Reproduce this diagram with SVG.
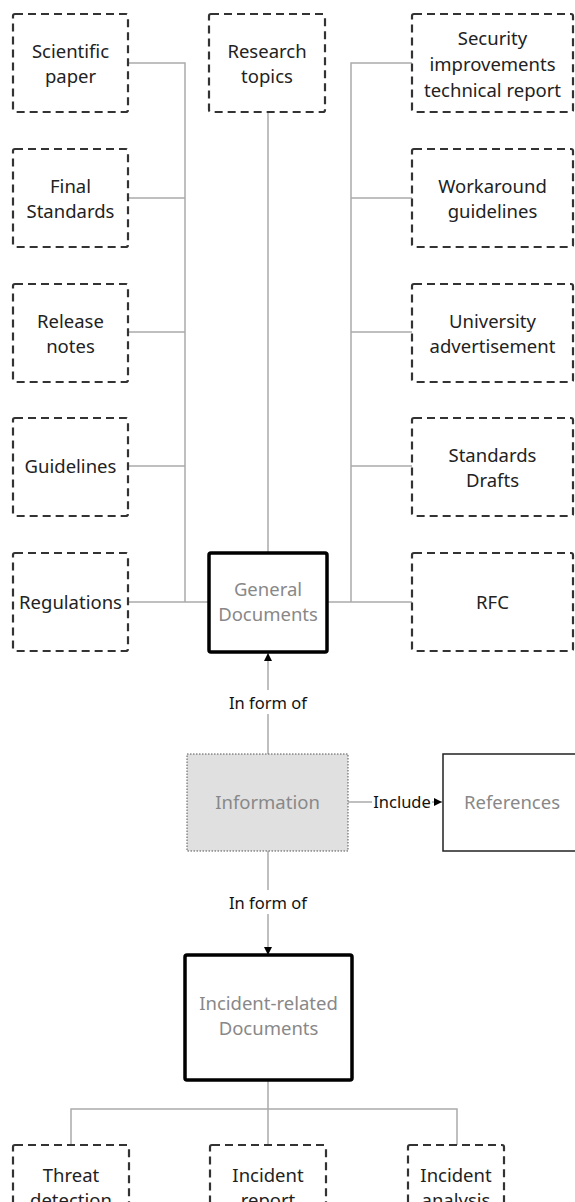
<svg xmlns="http://www.w3.org/2000/svg" width="575" height="1202" viewBox="0 0 575 1202">
<style>
.dash{fill:#fff;stroke:#333;stroke-width:2.2;stroke-dasharray:8 5}
.thick{fill:#fff;stroke:#000;stroke-width:3.5}
.t{font-family:"Noto Sans","Open Sans",sans-serif;font-size:18.5px;fill:#222;text-anchor:middle}
.g{fill:#888}
.lbl{font-family:"Noto Sans","Open Sans",sans-serif;font-size:16.5px;fill:#111;text-anchor:middle}
.c{fill:none;stroke:#aaa;stroke-width:1.5}
</style>
<defs>
<marker id="ah" viewBox="0 0 10 10" refX="10" refY="5" markerWidth="8" markerHeight="8" markerUnits="userSpaceOnUse" orient="auto"><path d="M0,0L10,5L0,10Z" fill="#000"/></marker>
</defs>
<rect width="575" height="1202" fill="#fff"/>
<g id="connectors">
<path class="c" d="M128,63H185V602M128,198H185M128,332H185M128,466H185M128,602H209"/>
<path class="c" d="M412,63H351V602M412,198H351M412,332H351M412,466H351M327,602H412"/>
<path class="c" d="M268,112V553"/>
<path class="c" d="M268,754V653" marker-end="url(#ah)"/>
<path class="c" d="M268,851V955" marker-end="url(#ah)"/>
<path class="c" d="M348,802H442" marker-end="url(#ah)"/>
<path class="c" d="M268,1080V1109M71,1145V1109H457V1145M268,1109V1145"/>
<rect x="236" y="690" width="64" height="24" fill="#fff"/>
<text class="lbl" x="268" y="709">In form of</text>
<rect x="236" y="890" width="64" height="24" fill="#fff"/>
<text class="lbl" x="268" y="909">In form of</text>
<rect x="372" y="790" width="60" height="24" fill="#fff"/>
<text class="lbl" x="402" y="808">Include</text>
</g>
<g id="scientific-paper"><rect class="dash" x="13" y="14" width="115" height="98" rx="2"/><text class="t" x="70.5" y="57.5">Scientific</text><text class="t" x="70.5" y="82.5">paper</text></g>
<g id="research-topics"><rect class="dash" x="209" y="14" width="116" height="98" rx="2"/><text class="t" x="267" y="57.5">Research</text><text class="t" x="267" y="82.5">topics</text></g>
<g id="security-report"><rect class="dash" x="412" y="14" width="161" height="98" rx="2"/><text class="t" x="492.5" y="45">Security</text><text class="t" x="492.5" y="71">improvements</text><text class="t" x="492.5" y="97">technical report</text></g>
<g id="final-standards"><rect class="dash" x="13" y="149" width="115" height="98" rx="2"/><text class="t" x="70.5" y="192.5">Final</text><text class="t" x="70.5" y="217.5">Standards</text></g>
<g id="workaround"><rect class="dash" x="412" y="149" width="161" height="98" rx="2"/><text class="t" x="492.5" y="192.5">Workaround</text><text class="t" x="492.5" y="217.5">guidelines</text></g>
<g id="release-notes"><rect class="dash" x="13" y="284" width="115" height="98" rx="2"/><text class="t" x="70.5" y="327.5">Release</text><text class="t" x="70.5" y="352.5">notes</text></g>
<g id="university"><rect class="dash" x="412" y="284" width="161" height="98" rx="2"/><text class="t" x="492.5" y="327.5">University</text><text class="t" x="492.5" y="352.5">advertisement</text></g>
<g id="guidelines"><rect class="dash" x="13" y="418" width="115" height="98" rx="2"/><text class="t" x="70.5" y="473">Guidelines</text></g>
<g id="standards-drafts"><rect class="dash" x="412" y="418" width="161" height="98" rx="2"/><text class="t" x="492.5" y="461.5">Standards</text><text class="t" x="492.5" y="486.5">Drafts</text></g>
<g id="regulations"><rect class="dash" x="13" y="553" width="115" height="98" rx="2"/><text class="t" x="70.5" y="609">Regulations</text></g>
<g id="general-documents"><rect class="thick" x="209" y="553" width="118" height="99" rx="2"/><text class="t g" x="268" y="596">General</text><text class="t g" x="268" y="621">Documents</text></g>
<g id="rfc"><rect class="dash" x="412" y="553" width="161" height="98" rx="2"/><text class="t" x="492.5" y="609">RFC</text></g>
<g id="information"><rect x="187" y="754" width="161" height="97" fill="#e0e0e0" stroke="#555" stroke-width="1" stroke-dasharray="1.5 1.5"/><text class="t g" x="267.5" y="809">Information</text></g>
<g id="references"><rect x="443" y="754" width="170" height="97" fill="#fff" stroke="#222" stroke-width="1.5"/><text class="t g" x="512" y="809">References</text></g>
<g id="incident-related"><rect class="thick" x="185" y="955" width="167" height="125" rx="2"/><text class="t g" x="268.5" y="1010">Incident-related</text><text class="t g" x="268.5" y="1035">Documents</text></g>
<g id="threat-detection"><rect class="dash" x="13" y="1145" width="116" height="98" rx="2"/><text class="t" x="71" y="1182">Threat</text><text class="t" x="71" y="1207">detection</text></g>
<g id="incident-report"><rect class="dash" x="210" y="1145" width="116" height="98" rx="2"/><text class="t" x="268" y="1182">Incident</text><text class="t" x="268" y="1207">report</text></g>
<g id="incident-analysis"><rect class="dash" x="408" y="1145" width="96" height="98" rx="2"/><text class="t" x="456" y="1182">Incident</text><text class="t" x="456" y="1207">analysis</text></g>
</svg>
